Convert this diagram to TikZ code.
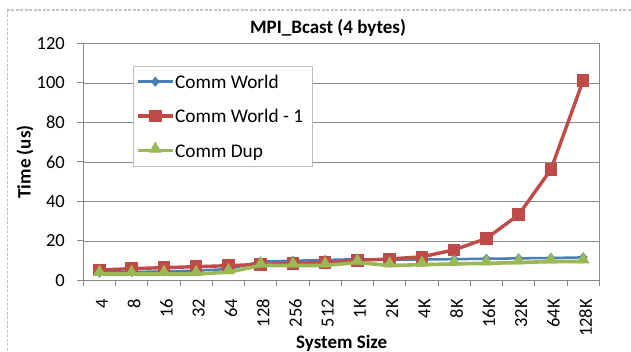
\documentclass[tikz,border=0pt]{standalone}
\usepackage{fontspec}
\setmainfont{Carlito}
\usetikzlibrary{shapes.geometric,calc}

\definecolor{serblue}{HTML}{4A7EBB}
\definecolor{serred}{HTML}{BE4B48}
\definecolor{sergreen}{HTML}{98B954}
\definecolor{axisgray}{HTML}{868686}
\definecolor{gridgray}{HTML}{8C8C8C}
\definecolor{framegray}{HTML}{C4C4C4}
\definecolor{legendgray}{HTML}{BDBDBD}

\tikzset{
  ticklab/.style={font=\fontsize{18.5}{20}\selectfont, inner sep=0pt, text=black},
  ylab/.style={ticklab, anchor=east},
  xlab/.style={ticklab, anchor=east, rotate=90},
  axtitle/.style={font=\fontsize{19}{21}\selectfont\bfseries, inner sep=0pt},
  legtext/.style={font=\fontsize{19.3}{21}\selectfont, inner sep=0pt, anchor=base west},
  gridline/.style={draw=gridgray, line width=0.9pt},
  axisline/.style={draw=axisgray, line width=1.4pt},
  blueline/.style={draw=serblue, line width=2.5pt, line join=round, line cap=round},
  redline/.style={draw=serred, line width=3.4pt, line join=round, line cap=round},
  greenline/.style={draw=sergreen, line width=3.6pt, line join=round, line cap=round},
  diamark/.style={diamond, fill=serblue, draw=none, inner sep=0pt, minimum width=9pt, minimum height=10.5pt},
  sqmark/.style={rectangle, fill=serred, draw=none, inner sep=0pt, minimum size=12.5pt},
  trimark/.style={regular polygon, regular polygon sides=3, fill=sergreen, draw=none, inner sep=0pt, minimum size=15pt},
}

\begin{document}
\begin{tikzpicture}[x=1pt,y=-1pt]
  \useasboundingbox (0,0) rectangle (631,352);
  \clip (0,0) rectangle (631,352);
  \fill[white] (0,0) rectangle (631,352);

  % chart frame (runs past the page on the right and bottom)
  \draw[framegray, line width=1.6pt, dash pattern=on 3pt off 1.5pt] (7.3,10) rectangle (660,380);

  % title
  \node[axtitle, anchor=base] (title) at (328,33.3) {MPI\_Bcast (4 bytes)};

  % horizontal grid lines and value labels
  \foreach \v in {0,20,...,120}{
    \pgfmathsetmacro\gy{280.5-1.975*\v}
    \ifnum\v>0
      \draw[gridline] (83.3,\gy) -- (599.3,\gy);
    \fi
    \draw[axisline, line width=1pt] (77.3,\gy) -- (83.3,\gy);
    \node[ylab] (yl\v) at (65,\gy) {\v};
  }
  % right border of the plot area
  \draw[gridline] (599.3,43.5) -- (599.3,280.5);

  % category axis with tick marks and labels
  \draw[axisline] (83.3,280.5) -- (599.3,280.5);
  \foreach \k in {0,...,16}{
    \pgfmathsetmacro\tx{83.3+32.25*\k}
    \draw[axisline, line width=1pt] (\tx,280.5) -- (\tx,286);
  }
  \foreach \lab [count=\i from 0] in {4,8,16,32,64,128,256,512,1K,2K,4K,8K,16K,32K,64K,128K}{
    \pgfmathsetmacro\cx{83.3+32.25*(\i+0.5)}
    \node[xlab] (xl\i) at (\cx+2.5,299) {\lab};
  }
  % value axis
  \draw[axisline] (83.3,43.5) -- (83.3,280.5);

  % axis titles
  \node[axtitle, rotate=90] (ytitle) at (25,162) {Time (us)};
  \node[axtitle, anchor=base] (xtitle) at (341.7,348) {System Size};

  % data points of the three series
  \foreach \v [count=\i from 0] in {4.0,4.3,4.6,5.0,5.8,9.6,10.0,10.4,10.8,10.5,10.6,10.8,11.0,11.2,11.4,11.7}{
    \pgfmathsetmacro\cx{83.3+32.25*(\i+0.5)}
    \pgfmathsetmacro\cy{280.5-1.975*\v}
    \coordinate (b\i) at (\cx,\cy);
  }
  \foreach \v [count=\i from 0] in {5.3,6.0,6.5,7.0,7.5,8.2,8.7,9.1,10.2,10.9,12.0,15.5,21.3,33.3,56.2,101.3}{
    \pgfmathsetmacro\cx{83.3+32.25*(\i+0.5)}
    \pgfmathsetmacro\cy{280.5-1.975*\v}
    \coordinate (r\i) at (\cx,\cy);
  }
  \foreach \v [count=\i from 0] in {3.3,3.3,3.3,3.3,4.2,7.6,7.6,7.6,9.1,7.6,8.0,8.4,8.7,9.1,9.6,9.6}{
    \pgfmathsetmacro\cx{83.3+32.25*(\i+0.5)}
    \pgfmathsetmacro\cy{280.5-1.975*\v}
    \coordinate (g\i) at (\cx,\cy);
  }

  % Comm World
  \draw[blueline] (b0) \foreach \i in {1,...,15}{ -- (b\i) };
  \foreach \i in {0,...,15} \node[diamark] (bm\i) at (b\i) {};
  % Comm World - 1
  \draw[redline] (r0) \foreach \i in {1,...,15}{ -- (r\i) };
  \foreach \i in {0,...,15} \node[sqmark] (rm\i) at (r\i) {};
  % Comm Dup
  \draw[greenline] (g0) \foreach \i in {1,...,15}{ -- (g\i) };
  \foreach \i in {0,...,15} \node[trimark] (gm\i) at ([yshift=1.8pt]g\i) {};

  % legend
  \node[draw=legendgray, line width=0.8pt, fill=white, anchor=north west, minimum width=179.2pt, minimum height=100.5pt, inner sep=0pt] (legend) at (132.5,66) {};
  \coordinate (la1) at (138,81.7);  \coordinate (lb1) at (172.7,81.7);
  \coordinate (la2) at (138,116);   \coordinate (lb2) at (172.7,116);
  \coordinate (la3) at (138,150.7); \coordinate (lb3) at (172.7,150.7);
  \draw[blueline, line cap=butt] (la1) -- (lb1);
  \node[diamark] (lm1) at ($(la1)!0.5!(lb1)$) {};
  \draw[redline, line cap=butt] (la2) -- (lb2);
  \node[sqmark] (lm2) at ($(la2)!0.5!(lb2)$) {};
  \draw[greenline, line cap=butt] (la3) -- (lb3);
  \node[trimark] (lm3) at ([yshift=1.8pt]$(la3)!0.5!(lb3)$) {};
  \node[legtext] (lt1) at (175,88.4) {Comm World};
  \node[legtext] (lt2) at (175,122.9) {Comm World - 1};
  \node[legtext] (lt3) at (175,157.3) {Comm Dup};
\end{tikzpicture}
\end{document}
